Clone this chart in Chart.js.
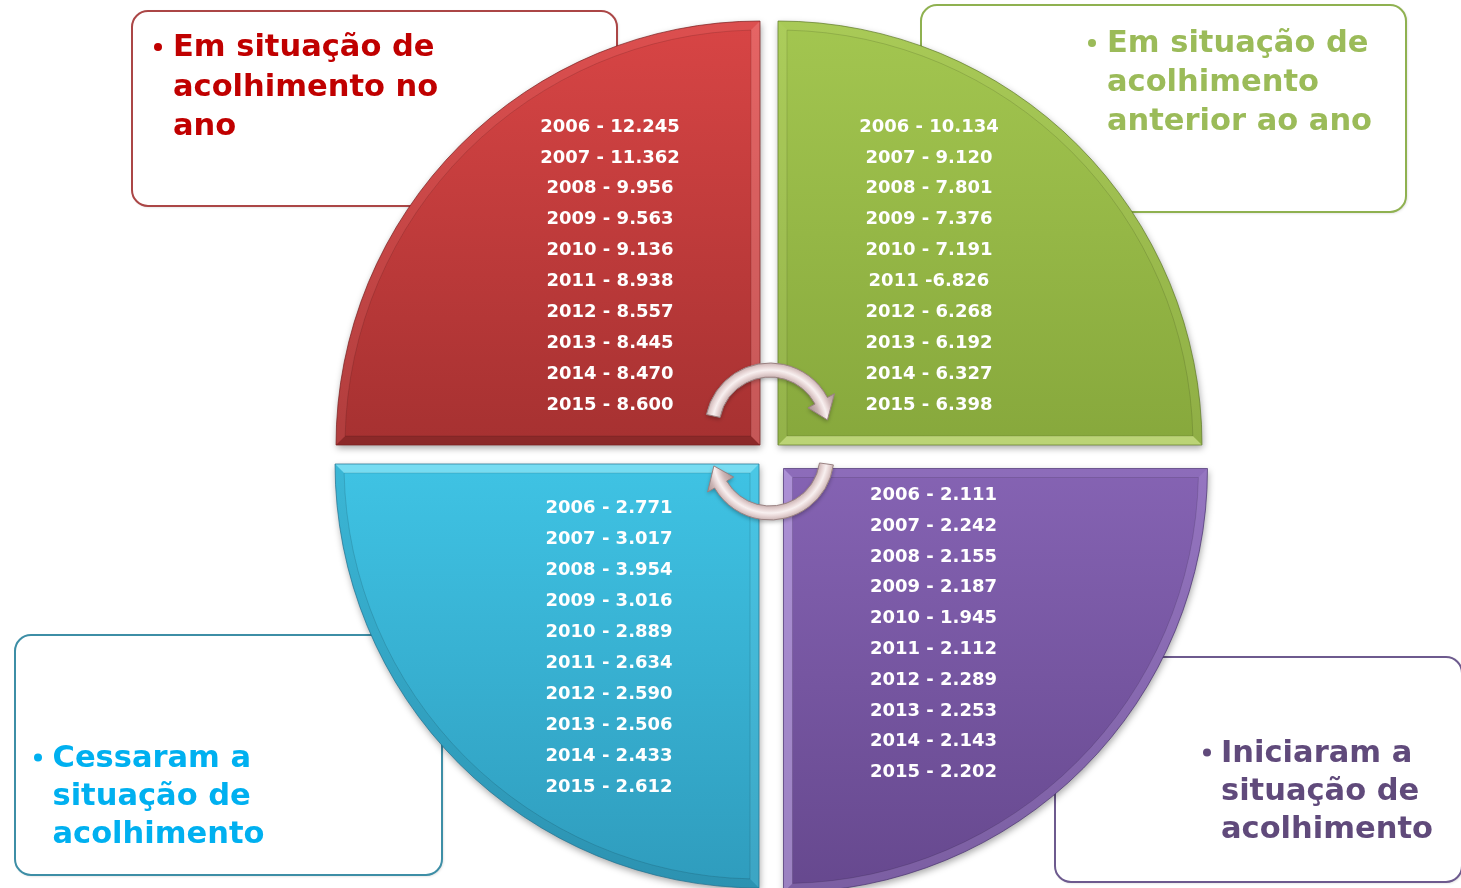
<!DOCTYPE html>
<html><head><meta charset="utf-8">
<script src="https://cdn.jsdelivr.net/npm/chart.js@4/dist/chart.umd.min.js"></script>
<style>html,body{margin:0;padding:0;background:#fff;}canvas{display:block}</style>
</head><body>
<canvas id="c" width="1461" height="888"></canvas>
<script>
// ---------- DATA ----------
const categories = [
  'Em situação de acolhimento no ano',
  'Em situação de acolhimento anterior ao ano',
  'Iniciaram a situação de acolhimento',
  'Cessaram a situação de acolhimento'
];
const titleLines = [
  ['Em situação de', 'acolhimento no', 'ano'],
  ['Em situação de', 'acolhimento', 'anterior ao ano'],
  ['Iniciaram a', 'situação de', 'acolhimento'],
  ['Cessaram a', 'situação de', 'acolhimento']
];
const years = [2006, 2007, 2008, 2009, 2010, 2011, 2012, 2013, 2014, 2015];
const emAcolhimentoNoAno = [12245, 11362, 9956, 9563, 9136, 8938, 8557, 8445, 8470, 8600];
const emAcolhimentoAnterior = [10134, 9120, 7801, 7376, 7191, 6826, 6268, 6192, 6327, 6398];
const iniciaram = [2111, 2242, 2155, 2187, 1945, 2112, 2289, 2253, 2143, 2202];
const cessaram = [2771, 3017, 3954, 3016, 2889, 2634, 2590, 2506, 2433, 2612];
const quadrantShare = [1, 1, 1, 1];           // four equal quarters of the diagram
const seriesByQuadrant = [emAcolhimentoNoAno, emAcolhimentoAnterior, iniciaram, cessaram];
const separator = ' - ';
const separatorExceptions = { 1: { 5: ' -' } }; // "2011 -6.826" as printed

// ---------- STYLE ----------
const R = 424;
const shiftPx = [12.7, 12.7, 20.5, 14.1];
const look = [
  { top:'#d84545', bot:'#a63131', edge:'#7a2020', hi:'#ffa0a0', bands:{s:-0.16, e:0.35, arc:0.12},
    box:[132,11,617,206], boxStroke:'#ab4646', title:'#c00000', tx:173, bx:158, base:[56,95.5,135],
    lx:-150, ly0:-320, lstep:30.9 },
  { top:'#a3c650', bot:'#87a83c', edge:'#5f7a28', hi:'#f0ffb0', bands:{s:0.12, e:0.5, arc:0.08},
    box:[921,5,1406,212], boxStroke:'#8fb150', title:'#9bbb59', tx:1107, bx:1092, base:[52,91,130],
    lx:151, ly0:-320, lstep:30.9 },
  { top:'#8563b3', bot:'#66488e', edge:'#4a3370', hi:'#dcc8ff', bands:{s:0.1, e:0.45, arc:0.18},
    box:[1055,657,1462,882], boxStroke:'#6d5a8e', title:'#604a7b', tx:1221, bx:1207, base:[761.5,800,838],
    lx:150, ly0:25, lstep:30.8 },
  { top:'#3fc3e4', bot:'#2f9cbd', edge:'#1f7090', hi:'#b0f6ff', bands:{s:0.1, e:0.5, arc:-0.06},
    box:[15,635,442,875], boxStroke:'#3d8ea6', title:'#00b0f0', tx:52.5, bx:38, base:[766.5,805,843],
    lx:-150, ly0:42, lstep:31 }
];

function fmt(n) { return String(n).replace(/\B(?=(\d{3})+(?!\d))/g, '.'); }

function roundRect(ctx, x0, y0, x1, y1, r) {
  ctx.beginPath();
  ctx.moveTo(x0 + r, y0);
  ctx.lineTo(x1 - r, y0); ctx.arcTo(x1, y0, x1, y0 + r, r);
  ctx.lineTo(x1, y1 - r); ctx.arcTo(x1, y1, x1 - r, y1, r);
  ctx.lineTo(x0 + r, y1); ctx.arcTo(x0, y1, x0, y1 - r, r);
  ctx.lineTo(x0, y0 + r); ctx.arcTo(x0, y0, x0 + r, y0, r);
  ctx.closePath();
}

function tintFill(ctx, amt, hi) {
  ctx.save();
  ctx.globalAlpha = Math.abs(amt);
  ctx.fillStyle = amt > 0 ? hi : '#000';
  ctx.fill();
  ctx.restore();
}

function drawBevel(ctx, C, s, e, b, L) {
  const ds = [Math.cos(s), Math.sin(s)], de = [Math.cos(e), Math.sin(e)];
  const t = Math.sqrt((R - b) * (R - b) - b * b);
  const Cp = [C[0] + b * (ds[0] + de[0]), C[1] + b * (ds[1] + de[1])];
  const Ps = [C[0] + R * ds[0], C[1] + R * ds[1]];
  const Pe = [C[0] + R * de[0], C[1] + R * de[1]];
  const Qs = [C[0] + b * de[0] + t * ds[0], C[1] + b * de[1] + t * ds[1]];
  const Qe = [C[0] + b * ds[0] + t * de[0], C[1] + b * ds[1] + t * de[1]];
  const d = Math.atan2(b, t);
  // band along edge s
  ctx.beginPath(); ctx.moveTo(C[0], C[1]); ctx.lineTo(Ps[0], Ps[1]); ctx.lineTo(Qs[0], Qs[1]); ctx.lineTo(Cp[0], Cp[1]); ctx.closePath();
  tintFill(ctx, L.bands.s, L.hi);
  // band along edge e
  ctx.beginPath(); ctx.moveTo(C[0], C[1]); ctx.lineTo(Pe[0], Pe[1]); ctx.lineTo(Qe[0], Qe[1]); ctx.lineTo(Cp[0], Cp[1]); ctx.closePath();
  tintFill(ctx, L.bands.e, L.hi);
  // band along arc
  ctx.beginPath(); ctx.arc(C[0], C[1], R, s, e); ctx.lineTo(Qe[0], Qe[1]); ctx.arc(C[0], C[1], R - b, e - d, s + d, true); ctx.closePath();
  tintFill(ctx, L.bands.arc, L.hi);
  // inner bevel line
  ctx.save();
  ctx.beginPath(); ctx.moveTo(Cp[0], Cp[1]); ctx.lineTo(Qs[0], Qs[1]); ctx.arc(C[0], C[1], R - b, s + d, e - d); ctx.closePath();
  ctx.strokeStyle = 'rgba(0,0,0,0.12)'; ctx.lineWidth = 1; ctx.stroke();
  // outer outline
  ctx.beginPath(); ctx.moveTo(C[0], C[1]); ctx.arc(C[0], C[1], R, s, e); ctx.closePath();
  ctx.strokeStyle = L.edge; ctx.globalAlpha = 0.7; ctx.lineWidth = 1; ctx.stroke();
  ctx.restore();
}

function drawArrow(ctx, x, y, r, w, a0, a1, headAng, headHalf) {
  ctx.save();
  ctx.beginPath();
  ctx.arc(x, y, r + w / 2, a0, a1);
  ctx.lineTo(x + (r + headHalf) * Math.cos(a1), y + (r + headHalf) * Math.sin(a1));
  const at = a1 + headAng;
  ctx.lineTo(x + r * Math.cos(at), y + r * Math.sin(at));
  ctx.lineTo(x + (r - headHalf) * Math.cos(a1), y + (r - headHalf) * Math.sin(a1));
  ctx.arc(x, y, r - w / 2, a1, a0, true);
  ctx.closePath();
  const g = ctx.createRadialGradient(x, y, r - headHalf, x, y, r + headHalf);
  g.addColorStop(0, '#a89090'); g.addColorStop(0.27, '#cdb6b6'); g.addColorStop(0.4, '#e9d8d8');
  g.addColorStop(0.5, '#f8f0f0'); g.addColorStop(0.6, '#e9d8d8'); g.addColorStop(0.73, '#cdb6b6'); g.addColorStop(1, '#a89090');
  ctx.shadowColor = 'rgba(0,0,0,0.3)'; ctx.shadowBlur = 4; ctx.shadowOffsetY = 2;
  ctx.fillStyle = g; ctx.fill();
  ctx.shadowColor = 'transparent';
  ctx.strokeStyle = '#9a8282'; ctx.lineWidth = 1; ctx.stroke();
  ctx.restore();
}

const diagramPlugin = {
  id: 'diagram',
  beforeDatasetsDraw(chart) {
    const ctx = chart.ctx;
    look.forEach((L, i) => {
      const [x0, y0, x1, y1] = L.box;
      ctx.save();
      roundRect(ctx, x0, y0, x1, y1, 16);
      ctx.shadowColor = 'rgba(0,0,0,0.18)'; ctx.shadowBlur = 3; ctx.shadowOffsetX = 1; ctx.shadowOffsetY = 1;
      ctx.fillStyle = '#fff'; ctx.fill();
      ctx.shadowColor = 'transparent';
      ctx.strokeStyle = L.boxStroke; ctx.lineWidth = 2; ctx.stroke();
      ctx.fillStyle = L.title;
      ctx.font = 'bold 30.5px "DejaVu Sans"';
      ctx.textBaseline = 'alphabetic'; ctx.textAlign = 'left';
      titleLines[i].forEach((ln, j) => ctx.fillText(ln, L.tx, L.base[j]));
      ctx.beginPath(); ctx.arc(L.bx, L.base[0] - 9, 4, 0, Math.PI * 2); ctx.fill();
      ctx.restore();
    });
    ctx.save();
    ctx.shadowColor = 'rgba(0,0,0,0.35)'; ctx.shadowBlur = 7; ctx.shadowOffsetX = 1; ctx.shadowOffsetY = 3;
  },
  afterDatasetsDraw(chart) {
    const ctx = chart.ctx;
    ctx.restore();
    const meta = chart.getDatasetMeta(0);
    meta.data.forEach((el, i) => {
      const L = look[i];
      const mid = (el.startAngle + el.endAngle) / 2;
      const off = (el.options.offset || 0) / 4;
      const C = [el.x + Math.cos(mid) * off, el.y + Math.sin(mid) * off];
      drawBevel(ctx, C, el.startAngle, el.endAngle, 9, L);
      ctx.save();
      ctx.fillStyle = '#fff';
      ctx.font = 'bold 18px "DejaVu Sans"';
      ctx.textAlign = 'center'; ctx.textBaseline = 'alphabetic';
      const vals = seriesByQuadrant[i];
      years.forEach((yr, k) => {
        const sep = (separatorExceptions[i] && separatorExceptions[i][k]) || separator;
        const cyText = C[1] + L.ly0 + k * L.lstep;
        ctx.fillText(yr + sep + fmt(vals[k]), C[0] + L.lx, cyText + 6.6);
      });
      ctx.restore();
    });
    const a = chart.chartArea;
    const cx = (a.left + a.right) / 2, cy = (a.top + a.bottom) / 2;
    const deg = Math.PI / 180;
    drawArrow(ctx, cx + 1, cy - 26, 58, 14, -168 * deg, -28 * deg, 20 * deg, 15);
    drawArrow(ctx, cx + 1, cy + 2, 57, 14, 8 * deg, 150 * deg, 20 * deg, 15);
  }
};

function sliceFill(c) {
  const ch = c.chart, a = ch.chartArea, L = look[c.dataIndex];
  if (!a) return L.top;
  const cy = (a.top + a.bottom) / 2;
  const up = c.dataIndex === 0 || c.dataIndex === 1;
  const g = ch.ctx.createLinearGradient(0, up ? cy - R : cy, 0, up ? cy : cy + R);
  g.addColorStop(0, L.top); g.addColorStop(1, L.bot);
  return g;
}

new Chart(document.getElementById('c'), {
  type: 'pie',
  data: {
    labels: categories,
    datasets: [{
      data: quadrantShare,
      backgroundColor: sliceFill,
      borderWidth: 0,
      offset: shiftPx.map(v => v * 4)
    }]
  },
  options: {
    responsive: false,
    animation: false,
    events: [],
    rotation: -90,
    radius: R,
    layout: { padding: { left: 77, top: 20, right: 0, bottom: 0 } },
    plugins: { legend: { display: false }, tooltip: { enabled: false } }
  },
  plugins: [diagramPlugin]
});
</script>
</body></html>
